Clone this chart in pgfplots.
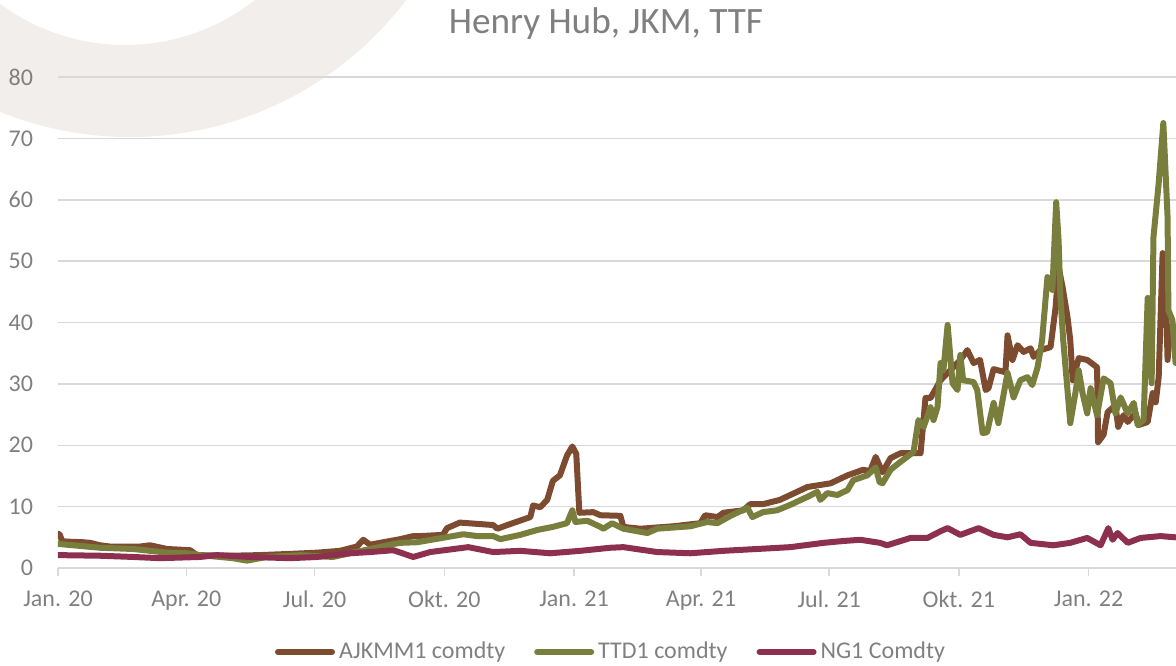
\documentclass[border=0pt]{standalone}
\usepackage{pgfplots}
\pgfplotsset{compat=1.18}
\usepackage{fontspec}
\setmainfont{Carlito}
\definecolor{cbrown}{RGB}{124,75,48}
\definecolor{colive}{RGB}{122,126,60}
\definecolor{cmaroon}{RGB}{141,47,78}
\definecolor{cgrid}{RGB}{217,217,217}
\definecolor{ctext}{RGB}{128,128,128}
\definecolor{cbeige}{RGB}{241,238,235}
\begin{document}
\begin{tikzpicture}
\path[use as bounding box] (0,0) rectangle (588pt,332.5pt);
\begin{scope}
\clip (0,0) rectangle (588pt,332.5pt);
\fill[cbeige, even odd rule] (65pt,437.5pt) circle (173.5pt) (62.5pt,415pt) circle (105pt);
\end{scope}
\begin{axis}[
 at={(29pt,48.5pt)}, anchor=south west, scale only axis,
 width=559pt, height=245.5pt,
 xmin=0, xmax=793, ymin=0, ymax=80,
 axis lines*=left,
 x axis line style={cgrid, line width=0.75pt},
 y axis line style={draw=none},
 ytick={0,10,...,80},
 xtick={0,91,182,274,366,456,547,639,731},
 xticklabels={Jan. 20, Apr. 20, Jul. 20, Okt. 20, Jan. 21, Apr. 21, Jul. 21, Okt. 21, Jan. 22},
 ymajorgrids, grid style={cgrid, line width=0.75pt},
 tick align=outside, major tick length=4pt,
 xtick style={cgrid, line width=0.75pt},
 ytick style={draw=none},
 /pgf/number format/assume math mode=true,
 tick label style={font=\fontsize{12}{14}\selectfont, text=ctext},
 yticklabel style={xshift=-5pt},
 xticklabel style={yshift=-4pt},
 legend columns=3,
 legend style={at={(0.4955,-0.171)}, anchor=center, draw=none, fill=none,
   font=\fontsize{12}{14}\selectfont, text=ctext,
   /tikz/every even column/.append style={column sep=12.5pt}},
 legend image code/.code={\draw[#1] (0pt,0pt) -- (27pt,0pt);},
 every axis plot/.append style={line width=3pt, line join=round, line cap=round},
]
\addplot[cbrown] coordinates {
(0,5.6)(1.4,5.4)(2.8,4.4)(6.4,4.3)(17.7,4.2)(22.7,4.1)(29.8,3.7)(36.9,3.5)(51.1,3.5)(58.2,3.5)(65.3,3.7)(77.4,3.1)(93.7,2.9)(98.6,2.1)(122,2.0)(143,2.1)(164.6,2.3)(183.8,2.5)(200,2.8)(212,3.5)(216.5,4.6)(221.4,3.8)(230.7,4.2)(242.7,4.7)(252,5.2)(257,5.2)(273,5.4)(276,6.5)(285,7.4)(308.7,7.0)(311.6,6.4)(318.7,7.0)(335,8.3)(337,10.2)(342,9.9)(347,11.1)(351,14.2)(356,15.1)(361,18.3)(364.8,19.8)(367.6,18.6)(369.8,9.0)(379.7,9.1)(384.7,8.6)(398.9,8.5)(401,6.7)(413,6.4)(436.5,6.8)(455.6,7.3)(459,8.6)(467.7,8.3)(472,9.0)(486,9.4)(491,10.4)(500,10.4)(512,11.1)(519.5,11.9)(531.6,13.2)(548,13.8)(560,15.1)(571,16.0)(576,15.8)(580,18.1)(584.8,15.6)(590.5,17.9)(597.6,18.7)(611.8,18.7)(615.3,27.7)(618.9,27.7)(626,30.6)(635,32.7)(640,33.9)(645,35.5)(649.4,33.4)(654,33.9)(658,29.0)(660,29.3)(663.6,32.4)(672,31.9)(673.5,37.9)(677,33.9)(680.6,36.3)(684.9,35.2)(689.8,35.8)(692,34.4)(697,35.5)(704,36.0)(707.6,42.5)(709.7,49.0)(712.5,45.8)(716,40.9)(718,37.1)(719.7,30.6)(724,34.2)(730,33.9)(737,32.7)(737.7,20.5)(741.6,21.7)(744.5,25.4)(750,26.5)(752,23.0)(755.8,24.9)(758.7,23.8)(764.3,25.2)(766.5,23.3)(772.9,23.8)(776.4,28.5)(778.6,27.0)(780.7,31.1)(783.5,51.3)(785,46.4)(786.4,39.3)(787,33.9)(789,39.3)(792.7,39.3)
};
\addlegendentry{AJKMM1 comdty}
\addplot[colive] coordinates {
(0,3.9)(1.4,3.9)(29.8,3.3)(53.2,3.1)(77.4,2.5)(91.6,2.4)(100.8,2.1)(124,1.6)(134,1.2)(148,1.8)(171.8,2.1)(195,1.8)(207,2.4)(223.6,3.2)(237.8,3.9)(242.7,4.1)(254.8,4.2)(280,5.2)(287.4,5.5)(297.4,5.2)(308.7,5.2)(313.7,4.7)(327.9,5.4)(340,6.2)(351,6.7)(361,7.3)(364.8,9.4)(367,7.5)(375.4,7.7)(384.7,6.7)(386.8,6.4)(393,7.3)(401,6.4)(418,5.7)(425,6.4)(448.5,6.8)(460.6,7.5)(467.7,7.3)(477,8.5)(489,9.8)(492.5,8.3)(500,9.1)(510,9.4)(519.5,10.3)(531.6,11.6)(538.6,12.4)(540.7,11.1)(545.7,12.2)(552.8,11.9)(560,12.7)(564,14.3)(574,15.1)(580,16.4)(582.7,14.0)(584.8,13.8)(590.5,16.0)(597.6,17.3)(606.8,18.9)(610.3,24.1)(614,23.0)(618.9,26.2)(621,24.1)(623.8,26.2)(626,33.4)(628,32.2)(631,39.6)(634.5,30.1)(638,29.0)(640,34.7)(642,30.6)(649.4,30.3)(652,29.0)(655.8,22.0)(659,22.1)(663.6,26.9)(667,23.6)(673.5,31.8)(677.8,27.8)(682.6,30.6)(687.6,31.1)(691,29.8)(694.8,32.7)(698,37.1)(701.8,47.4)(705.3,45.3)(708,59.6)(709.7,53.4)(711,44.1)(713,37.1)(718,23.6)(721.6,28.5)(724,32.2)(726.7,28.5)(730,25.2)(732.4,29.3)(737,24.9)(741.6,30.9)(746.6,30.1)(750,25.2)(753.7,27.8)(758.7,25.2)(763,26.9)(765.8,23.3)(770,24.1)(772.9,44.0)(775.7,30.1)(777,53.9)(780.7,62.7)(784,72.5)(787,57.2)(787.6,42.0)(790.4,40.4)(792.7,33.4)
};
\addlegendentry{TTD1 comdty}
\addplot[cmaroon] coordinates {
(0,2.1)(29.8,2.0)(53.2,1.8)(72.4,1.6)(100.8,1.8)(112.8,2.1)(136,1.8)(164.6,1.6)(183.8,1.8)(207,2.4)(221.4,2.6)(237.8,2.9)(252,1.8)(264,2.6)(291,3.4)(308.7,2.6)(327.9,2.8)(349,2.4)(370.5,2.8)(391.8,3.3)(401,3.4)(425,2.6)(448.5,2.4)(472,2.8)(496,3.1)(519.5,3.4)(543,4.1)(557,4.4)(569,4.6)(583,4.1)(588,3.7)(604.7,4.9)(616.7,4.9)(626,6.0)(631,6.5)(640,5.4)(653,6.5)(663.6,5.4)(673.5,5.0)(682.6,5.5)(689.8,4.1)(706,3.7)(718,4.1)(730,4.9)(739.5,3.7)(745,6.5)(748,4.6)(751.6,5.7)(758.7,4.1)(767.9,4.9)(782,5.2)(792.7,5.0)
};
\addlegendentry{NG1 Comdty}
\end{axis}
\node[text=ctext, font=\fontsize{18.6}{22}\selectfont] at (303pt,320.5pt) {Henry Hub, JKM, TTF};
\end{tikzpicture}
\end{document}
